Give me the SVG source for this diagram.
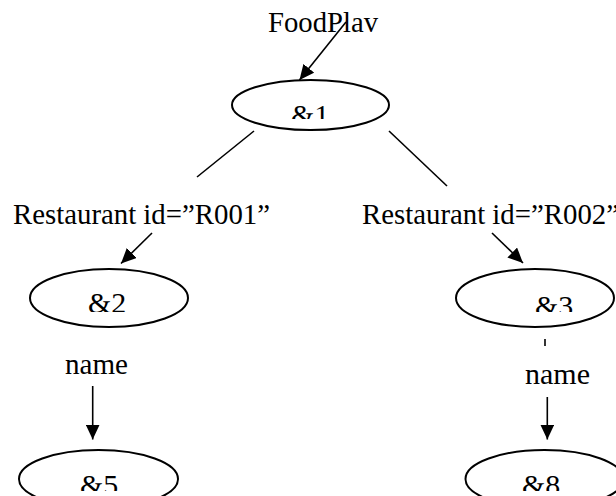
<svg xmlns="http://www.w3.org/2000/svg" width="616" height="496" viewBox="0 0 616 496">
  <style>
    .node ellipse { fill: #fff; stroke: #000; stroke-width: 2; }
    .lbl { font-family: "Liberation Serif", "Times New Roman", serif; font-size: 30px; fill: #000; }
    .edge { stroke: #000; stroke-width: 1.6; fill: none; }
  </style>
  <defs>
    <marker id="head" markerUnits="userSpaceOnUse" markerWidth="16" markerHeight="14" refX="15" refY="7" orient="auto">
      <path d="M0,0 L15,7 L0,14 Z" fill="#000"/>
    </marker>
    <!-- text boxes cut the bottom of their lines -->
    <clipPath id="c1" clipPathUnits="userSpaceOnUse"><rect x="240" y="90" width="140" height="29"/></clipPath>
    <clipPath id="c2" clipPathUnits="userSpaceOnUse"><rect x="40" y="280" width="140" height="32"/></clipPath>
    <clipPath id="c3" clipPathUnits="userSpaceOnUse"><rect x="470" y="280" width="140" height="32"/></clipPath>
    <clipPath id="c5" clipPathUnits="userSpaceOnUse"><rect x="30" y="460" width="140" height="31"/></clipPath>
    <clipPath id="c8" clipPathUnits="userSpaceOnUse"><rect x="470" y="460" width="140" height="31"/></clipPath>
  </defs>

  <g id="connectors">
    <line class="edge" x1="346" y1="22" x2="299.5" y2="80" marker-end="url(#head)"/>
    <line class="edge" x1="254" y1="131" x2="197" y2="177"/>
    <line class="edge" x1="152" y1="233" x2="121" y2="263.5" marker-end="url(#head)"/>
    <line class="edge" x1="389" y1="131" x2="447" y2="186"/>
    <line class="edge" x1="492" y1="233" x2="523" y2="263" marker-end="url(#head)"/>
    <line class="edge" x1="545" y1="339" x2="545" y2="346"/>
    <line class="edge" x1="92.7" y1="386" x2="92.7" y2="439.5" marker-end="url(#head)"/>
    <line class="edge" x1="547.3" y1="397" x2="547.3" y2="439.5" marker-end="url(#head)"/>
  </g>

  <g id="labels">
    <text class="lbl" x="268" y="32" textLength="110" lengthAdjust="spacingAndGlyphs">FoodPlav</text>
    <text class="lbl" x="13" y="223.5" textLength="257" lengthAdjust="spacingAndGlyphs">Restaurant id=”R001”</text>
    <text class="lbl" x="362" y="223.5" textLength="257" lengthAdjust="spacingAndGlyphs">Restaurant id=”R002”</text>
    <text class="lbl" x="65" y="373.5" textLength="63" lengthAdjust="spacingAndGlyphs">name</text>
    <text class="lbl" x="525" y="383.5" textLength="65" lengthAdjust="spacingAndGlyphs">name</text>
  </g>

  <g id="n1" class="node">
    <ellipse cx="310.5" cy="105" rx="78.5" ry="25"/>
    <text class="lbl" x="291" y="125" font-size="28" clip-path="url(#c1)">&amp;1</text>
  </g>
  <g id="n2" class="node">
    <ellipse cx="109" cy="298" rx="79" ry="29"/>
    <text class="lbl" x="88" y="313" font-size="31" clip-path="url(#c2)">&amp;2</text>
  </g>
  <g id="n3" class="node">
    <ellipse cx="535" cy="298" rx="79" ry="29"/>
    <text class="lbl" x="535" y="316" font-size="31" clip-path="url(#c3)">&amp;3</text>
  </g>
  <g id="n5" class="node">
    <ellipse cx="98.5" cy="479" rx="79.5" ry="29"/>
    <text class="lbl" x="80" y="495" font-size="30" clip-path="url(#c5)">&amp;5</text>
  </g>
  <g id="n8" class="node">
    <ellipse cx="544.5" cy="479" rx="79" ry="29"/>
    <text class="lbl" x="522" y="495" font-size="30" clip-path="url(#c8)">&amp;8</text>
  </g>
</svg>
